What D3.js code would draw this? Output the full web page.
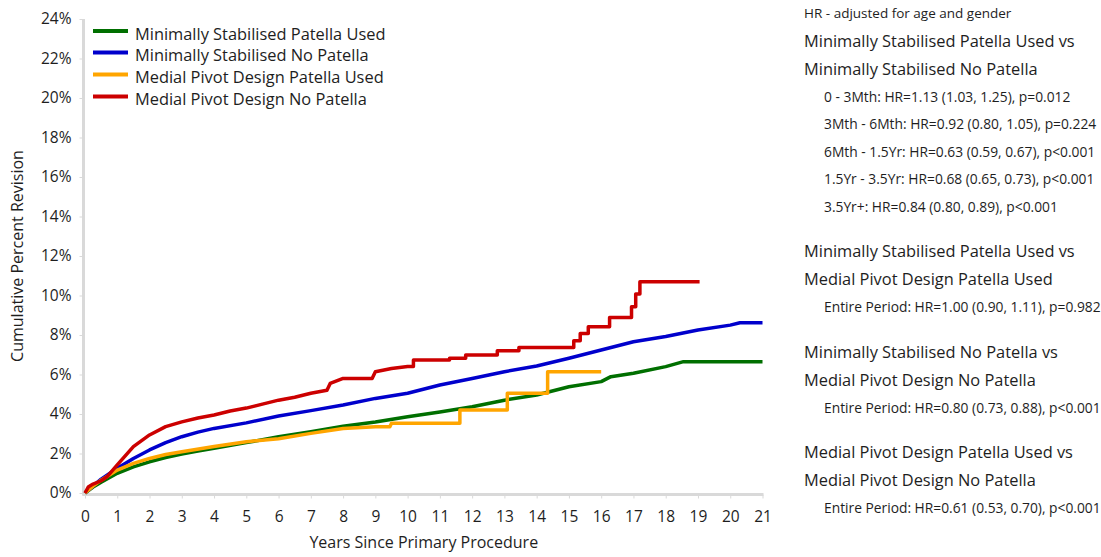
<!DOCTYPE html>
<html>
<head>
<meta charset="utf-8">
<script src="https://cdn.jsdelivr.net/npm/d3@7"></script>
<style>
  html, body { margin: 0; padding: 0; background: #fff; }
  svg text { font-family: "Open Sans", "Noto Sans", sans-serif; fill: #1e1e1e; }
</style>
</head>
<body>
<svg id="chart" width="1101" height="557"></svg>
<script>
// ---------- DATA ----------
const seriesNames = [
  "Minimally Stabilised Patella Used",
  "Minimally Stabilised No Patella",
  "Medial Pivot Design Patella Used",
  "Medial Pivot Design No Patella"
];
const seriesColors = ["#006f00", "#0000cc", "#ffa500", "#cc0000"];

const msPatellaTimes  = [0,0.25,0.5,1,1.5,2,2.5,3,3.5,4,5,6,7,8,9,10,11,12,13,14,15,16,16.3,17,18,18.55,21];
const msPatellaValues = [0,0.3,0.55,1.0,1.32,1.58,1.8,1.97,2.12,2.26,2.55,2.85,3.1,3.38,3.6,3.86,4.1,4.37,4.7,4.96,5.38,5.64,5.89,6.06,6.4,6.65,6.65];

const msNoPatellaTimes  = [0,0.25,0.5,1,1.5,2,2.5,3,3.5,4,5,6,7,8,9,10,11,12,13,14,15,16,17,18,19,20,20.3,21];
const msNoPatellaValues = [0,0.35,0.7,1.25,1.75,2.18,2.55,2.85,3.08,3.27,3.55,3.9,4.17,4.46,4.79,5.05,5.47,5.8,6.14,6.43,6.82,7.24,7.66,7.92,8.25,8.5,8.62,8.62];

const mpPatellaTimes  = [0,0.25,0.5,1,1.5,2,2.5,3,4,5,6,7,8,9,9.45,9.5,11.62,11.62,13.09,13.09,14.34,14.34,16.0];
const mpPatellaValues = [0,0.35,0.65,1.16,1.5,1.75,1.95,2.09,2.35,2.6,2.75,3.02,3.27,3.36,3.36,3.53,3.53,4.2,4.2,5.05,5.05,6.14,6.14];

const mpNoPatellaTimes  = [0,0.1,0.25,0.5,0.7,1,1.5,2,2.5,3,3.5,4,4.5,5,5.5,6,6.5,7,7.5,7.6,8,8.9,9,9.5,10,10.18,10.18,11.3,11.3,11.8,11.8,12.78,12.78,13.45,13.45,15.15,15.15,15.35,15.35,15.6,15.6,16.26,16.26,16.94,16.94,17.07,17.07,17.2,17.2,19.05];
const mpNoPatellaValues = [0,0.3,0.45,0.62,0.85,1.42,2.35,2.94,3.36,3.6,3.8,3.95,4.15,4.3,4.5,4.7,4.85,5.05,5.2,5.55,5.8,5.8,6.14,6.3,6.4,6.4,6.73,6.73,6.82,6.82,6.99,6.99,7.2,7.2,7.37,7.37,7.71,7.71,8.08,8.08,8.42,8.42,8.89,8.89,9.43,9.43,10.07,10.07,10.7,10.7];

const xTicks = d3.range(0, 22, 1);
const yTicks = d3.range(0, 26, 2);

const hrTitle = "HR - adjusted for age and gender";
const hrGroups = [
  { heading: ["Minimally Stabilised Patella Used vs", "Minimally Stabilised No Patella"],
    items: ["0 - 3Mth: HR=1.13 (1.03, 1.25), p=0.012",
            "3Mth - 6Mth: HR=0.92 (0.80, 1.05), p=0.224",
            "6Mth - 1.5Yr: HR=0.63 (0.59, 0.67), p<0.001",
            "1.5Yr - 3.5Yr: HR=0.68 (0.65, 0.73), p<0.001",
            "3.5Yr+: HR=0.84 (0.80, 0.89), p<0.001"] },
  { heading: ["Minimally Stabilised Patella Used vs", "Medial Pivot Design Patella Used"],
    items: ["Entire Period: HR=1.00 (0.90, 1.11), p=0.982"] },
  { heading: ["Minimally Stabilised No Patella vs", "Medial Pivot Design No Patella"],
    items: ["Entire Period: HR=0.80 (0.73, 0.88), p<0.001"] },
  { heading: ["Medial Pivot Design Patella Used vs", "Medial Pivot Design No Patella"],
    items: ["Entire Period: HR=0.61 (0.53, 0.70), p<0.001"] }
];

// ---------- CHART ----------
const svg = d3.select("#chart");
const x = d3.scaleLinear().domain([0, 21]).range([85, 762.5]);
const y = d3.scaleLinear().domain([0, 24]).range([493, 19]);
const axisColor = "#d9d9d9";

// x axis
const xg = svg.append("g").attr("transform", "translate(0,494.5)")
  .call(d3.axisBottom(x).tickValues(xTicks).tickFormat(d3.format("d")).tickSize(4).tickPadding(12));
xg.select(".domain").attr("stroke", axisColor).attr("stroke-width", 3).attr("d", `M${x(0)-2.5},0H${x(21)+1}`);
xg.selectAll(".tick line").attr("stroke", axisColor).attr("stroke-width", 1);
xg.selectAll(".tick text").attr("font-size", 15.5).attr("font-family", "Open Sans").attr("fill", "#1e1e1e");

// y axis
const yg = svg.append("g").attr("transform", "translate(83.5,0)")
  .call(d3.axisLeft(y).tickValues(yTicks).tickFormat(d => d + "%").tickSize(4).tickPadding(8));
yg.select(".domain").attr("stroke", axisColor).attr("stroke-width", 3).attr("d", `M0,${y(24)}V${y(0)+2.5}`);
yg.selectAll(".tick line").attr("stroke", axisColor).attr("stroke-width", 1);
yg.selectAll(".tick text").attr("font-size", 15.5).attr("font-family", "Open Sans").attr("fill", "#1e1e1e");

// axis titles
svg.append("text").attr("x", x(10.5)).attr("y", 548).attr("text-anchor", "middle")
  .attr("font-size", 16).text("Years Since Primary Procedure");
svg.append("text").attr("transform", `translate(23,${y(12)}) rotate(-90)`).attr("text-anchor", "middle")
  .attr("font-size", 16).text("Cumulative Percent Revision");

// series
const allSeries = [
  [msPatellaTimes, msPatellaValues],
  [msNoPatellaTimes, msNoPatellaValues],
  [mpPatellaTimes, mpPatellaValues],
  [mpNoPatellaTimes, mpNoPatellaValues]
];
const line = d3.line().x(d => x(d[0])).y(d => y(d[1])).curve(d3.curveLinear);
allSeries.forEach((s, i) => {
  const pts = s[0].map((t, j) => [t, s[1][j]]);
  svg.append("path").datum(pts).attr("d", line)
    .attr("fill", "none").attr("stroke", seriesColors[i]).attr("stroke-width", 3.5)
    .attr("stroke-linejoin", "round").attr("stroke-linecap", "butt");
});

// legend
const legendY = [31, 52.5, 74.5, 96.5];
seriesNames.forEach((n, i) => {
  svg.append("line").attr("x1", 93).attr("x2", 128).attr("y1", legendY[i]).attr("y2", legendY[i])
    .attr("stroke", seriesColors[i]).attr("stroke-width", 4);
  svg.append("text").attr("x", 135).attr("y", legendY[i] + 3).attr("dy", "0.35em")
    .attr("font-size", 16.4).text(n);
});

// HR panel
svg.append("text").attr("x", 804).attr("y", 13).attr("dy", "0.35em").attr("font-size", 13.5).text(hrTitle);
let cy = 41;
hrGroups.forEach((g, gi) => {
  g.heading.forEach(h => {
    svg.append("text").attr("x", 804).attr("y", cy).attr("dy", "0.35em").attr("font-size", 16.4).text(h);
    cy += 28;
  });
  g.items.forEach(it => {
    svg.append("text").attr("x", 824).attr("y", cy).attr("dy", "0.35em").attr("font-size", 13.8).text(it);
    cy += 27.5;
  });
  cy += 17;
});
</script>
</body>
</html>
